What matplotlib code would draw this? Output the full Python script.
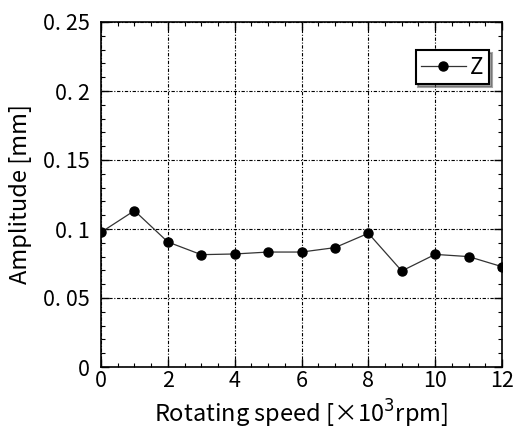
import matplotlib
matplotlib.use("Agg")
import matplotlib.pyplot as plt
from matplotlib.ticker import MultipleLocator, FixedLocator

plt.rcParams['font.family'] = ['Noto Sans CJK JP', 'DejaVu Sans']

speed = [0, 1, 2, 3, 4, 5, 6, 7, 8, 9, 10, 11, 12]
amp_z = [0.0976, 0.1133, 0.0906, 0.0814, 0.0819, 0.0833, 0.0833,
         0.0865, 0.0969, 0.0696, 0.0816, 0.0800, 0.0727]
xticks = [0, 2, 4, 6, 8, 10, 12]
yticks = [0, 0.05, 0.1, 0.15, 0.2, 0.25]
ylabels = ["0", "0. 05", "0. 1", "0. 15", "0. 2", "0. 25"]

fig = plt.figure(figsize=(5.13, 4.40), dpi=100)
ax = fig.add_axes([101 / 513, 73 / 440, 401 / 513, 345 / 440])

ax.plot(speed, amp_z, color="#333333", linewidth=0.9, marker="o",
        markersize=6.5, markerfacecolor="black", markeredgecolor="black", label="Z")

ax.set_xlim(0, 12)
ax.set_ylim(0, 0.25)
ax.xaxis.set_major_locator(FixedLocator(xticks))
ax.set_yticks(yticks)
ax.set_yticklabels(ylabels)
ax.xaxis.set_minor_locator(MultipleLocator(0.5))
ax.yaxis.set_minor_locator(MultipleLocator(0.01))
ax.tick_params(which="both", direction="in", top=True, right=True, labelsize=15.5)
ax.tick_params(axis="x", which="major", pad=2)
ax.tick_params(axis="y", which="major", pad=8)
ax.tick_params(which="major", length=6, width=1)
ax.tick_params(which="minor", length=3, width=0.8)
for s in ax.spines.values():
    s.set_linewidth(1.2)

ax.grid(True, which="major", linestyle=(0, (3, 1.5, 1, 1.5)), linewidth=0.8, color="black")

ax.set_xlabel("Rotating speed [×10$^3$rpm]", fontsize=17, labelpad=4)
ax.set_ylabel("Amplitude [mm]", fontsize=17, labelpad=8)

leg = ax.legend(loc="upper right", bbox_to_anchor=(0.995, 0.95), fontsize=16,
                frameon=True, fancybox=False, shadow=True, handlelength=2.0,
                borderpad=0.25, handletextpad=0.2)
leg.get_frame().set_edgecolor("black")
leg.get_frame().set_linewidth(1.5)

fig.savefig("out.png", dpi=100)
